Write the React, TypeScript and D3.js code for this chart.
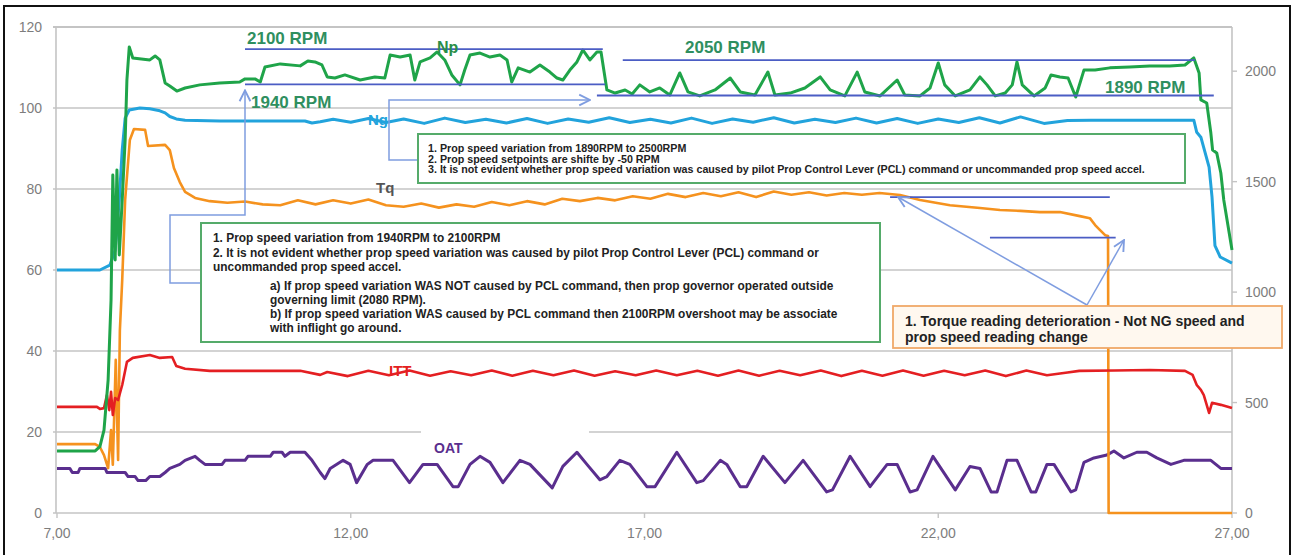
import React from 'react';
import * as d3 from 'd3';

// Flight-data trace: time on x, percent / °C on the left axis, prop RPM on the right axis.
const W = 1294;
const H = 555;

const TIME_TICKS = [7, 12, 17, 22, 27];
const TIME_LABELS = ['7,00', '12,00', '17,00', '22,00', '27,00'];
const LEFT_TICKS = [0, 20, 40, 60, 80, 100, 120];
const RIGHT_TICKS = [0, 500, 1000, 1500, 2000];

type Pt = [number, number];

// Np — prop speed, RPM (right axis)
const NP: Pt[] = [
  [7.0, 281], [7.65, 281], [7.73, 300], [7.8, 375], [7.87, 602], [7.92, 964], [7.95, 1530], [7.99, 1145], [8.02, 1553], [8.06, 1168],
  [8.11, 1417], [8.16, 1689], [8.19, 1960], [8.23, 2110], [8.29, 2060], [8.58, 2051], [8.67, 2069], [8.75, 2051], [8.84, 1947], [8.92, 1933],
  [9.04, 1910], [9.18, 1924], [9.43, 1938], [9.77, 1947], [10.11, 1951], [10.2, 1965], [10.37, 1965], [10.46, 1951], [10.54, 2019], [10.8, 2033],
  [11.14, 2024], [11.27, 2046], [11.39, 2042], [11.51, 2028], [11.6, 1974], [11.73, 1969], [11.9, 1983], [12.16, 1960], [12.41, 1974], [12.58, 1969],
  [12.67, 2073], [12.84, 2064], [13.01, 2073], [13.09, 1960], [13.18, 2042], [13.35, 2060], [13.47, 2087], [13.6, 2051], [13.72, 1983], [13.86, 1938],
  [13.94, 2005], [14.03, 2073], [14.2, 2082], [14.37, 2064], [14.54, 2073], [14.66, 2051], [14.74, 1951], [14.85, 2015], [15.05, 1996], [15.22, 2028],
  [15.39, 1996], [15.51, 1969], [15.61, 1960], [15.73, 2005], [15.85, 2042], [15.95, 2096], [16.07, 2051], [16.19, 2087], [16.26, 2087], [16.36, 1915],
  [16.5, 1901], [16.67, 1915], [16.79, 1897], [16.92, 1938], [17.09, 1906], [17.26, 1924], [17.43, 1892], [17.6, 1992], [17.74, 1906], [17.94, 1888],
  [18.2, 1915], [18.46, 1969], [18.63, 1906], [18.88, 1892], [19.1, 1996], [19.22, 1892], [19.48, 1901], [19.73, 1924], [19.99, 1974], [20.16, 1915],
  [20.41, 1888], [20.62, 1996], [20.75, 1906], [21.01, 1888], [21.3, 1960], [21.43, 1892], [21.69, 1888], [21.86, 1924], [22.0, 2037], [22.11, 1938],
  [22.29, 1888], [22.54, 1915], [22.71, 1974], [22.83, 1938], [22.97, 1888], [23.14, 1901], [23.26, 1938], [23.34, 2042], [23.43, 1938], [23.63, 1888],
  [23.82, 1924], [23.92, 1983], [24.07, 1974], [24.21, 1969], [24.34, 1883], [24.48, 2005], [24.67, 2005], [24.92, 2015], [25.26, 2019], [25.6, 2024],
  [25.94, 2024], [26.2, 2028], [26.35, 2060], [26.44, 1992], [26.47, 1870], [26.57, 1856], [26.64, 1720], [26.67, 1643], [26.74, 1630], [26.81, 1539],
  [26.86, 1417], [26.93, 1304], [27.0, 1191],
];

// Ng — gas generator speed, %
const NG: Pt[] = [
  [7.0, 60.0], [7.73, 60.0], [7.9, 61.2], [7.99, 64.9], [8.06, 77.3], [8.11, 89.6], [8.16, 97.5], [8.23, 99.5], [8.41, 100.0], [8.58, 99.8],
  [8.75, 99.3], [8.84, 98.8], [8.92, 97.9], [9.03, 97.3], [9.18, 97.0], [9.77, 96.8], [10.46, 96.8], [10.97, 96.8], [11.22, 96.8], [11.34, 96.3],
  [11.48, 96.6], [11.7, 97.2], [12.0, 96.5], [12.3, 97.4], [12.6, 96.4], [12.9, 97.3], [13.25, 96.2], [13.6, 97.5], [13.95, 96.4], [14.3, 97.2],
  [14.65, 96.3], [15.0, 97.4], [15.35, 96.2], [15.7, 97.3], [16.05, 96.5], [16.4, 97.6], [16.75, 96.4], [17.1, 97.2], [17.45, 96.3], [17.8, 97.5],
  [18.15, 96.2], [18.5, 97.3], [18.85, 96.5], [19.2, 97.6], [19.55, 96.3], [19.9, 97.2], [20.25, 96.4], [20.6, 97.5], [20.95, 96.3], [21.3, 97.4],
  [21.65, 96.2], [22.0, 97.3], [22.35, 96.4], [22.7, 97.6], [23.05, 96.3], [23.4, 97.8], [23.8, 96.2], [24.2, 96.9], [24.6, 97.0], [25.0, 97.0],
  [25.5, 97.0], [26.0, 97.0], [26.35, 97.0], [26.4, 94.0], [26.47, 92.8], [26.61, 85.4], [26.66, 78.0], [26.71, 66.0], [26.8, 63.2], [27.0, 61.7],
];

// Tq — torque, %
const TQ: Pt[] = [
  [7.0, 17.0], [7.65, 17.0], [7.73, 16.3], [7.8, 14.3], [7.87, 11.1], [7.92, 20.5], [7.95, 11.9], [8.0, 37.8], [8.04, 13.1], [8.07, 45.0],
  [8.11, 57.5], [8.16, 77.3], [8.24, 92.1], [8.31, 94.8], [8.5, 94.6], [8.55, 90.6], [8.84, 90.9], [8.92, 89.6], [8.99, 85.2], [9.09, 81.7],
  [9.18, 79.3], [9.35, 77.8], [9.6, 77.0], [9.9, 76.6], [10.2, 76.9], [10.5, 76.2], [10.8, 76.0], [11.1, 77.2], [11.4, 76.2], [11.7, 77.2],
  [12.0, 76.4], [12.3, 77.4], [12.6, 76.0], [12.9, 75.6], [13.2, 76.4], [13.5, 75.4], [13.8, 76.2], [14.1, 75.6], [14.4, 76.8], [14.7, 76.0],
  [15.0, 77.0], [15.3, 76.2], [15.6, 77.6], [15.9, 77.0], [16.2, 77.8], [16.5, 77.2], [16.8, 78.2], [17.1, 77.6], [17.4, 78.8], [17.7, 78.0],
  [18.0, 79.0], [18.3, 78.2], [18.6, 79.2], [18.9, 78.0], [19.2, 79.4], [19.5, 78.6], [19.8, 79.2], [20.1, 78.4], [20.4, 79.0], [20.7, 78.6],
  [21.0, 79.0], [21.35, 78.5], [21.69, 77.3], [22.2, 76.0], [22.71, 75.3], [23.05, 74.8], [23.4, 74.6], [23.73, 74.3], [24.07, 74.3], [24.41, 73.3],
  [24.58, 72.8], [24.67, 71.1], [24.75, 69.9], [24.84, 68.6], [24.89, 68.4], [24.9, 0], [27.0, 0],
];

// ITT — inter-turbine temperature
const ITT: Pt[] = [
  [7.0, 26.2], [7.68, 26.2], [7.73, 25.7], [7.8, 25.9], [7.85, 29.1], [7.89, 25.4], [7.92, 29.9], [7.95, 24.2], [7.99, 28.4], [8.04, 27.9],
  [8.11, 31.6], [8.19, 37.3], [8.29, 38.3], [8.58, 39.0], [8.75, 38.3], [8.96, 38.5], [9.03, 36.3], [9.18, 35.6], [9.6, 35.1], [10.46, 35.1],
  [11.14, 35.1], [11.48, 34.1], [11.6, 34.8], [11.95, 33.8], [12.3, 35.1], [12.65, 34.0], [13.0, 35.2], [13.35, 33.9], [13.7, 35.0], [14.05, 34.0],
  [14.4, 35.2], [14.75, 33.9], [15.1, 35.1], [15.45, 34.0], [15.8, 35.2], [16.15, 33.9], [16.5, 35.0], [16.85, 34.0], [17.2, 35.2], [17.55, 34.0],
  [17.9, 35.1], [18.25, 33.9], [18.6, 35.2], [18.95, 33.9], [19.3, 35.1], [19.65, 34.0], [20.0, 35.2], [20.35, 33.8], [20.7, 35.1], [21.05, 33.9],
  [21.4, 35.2], [21.75, 33.9], [22.1, 35.1], [22.45, 34.0], [22.8, 35.2], [23.15, 33.8], [23.5, 35.2], [23.85, 34.0], [24.2, 34.7], [24.4, 35.1],
  [25.0, 35.2], [25.6, 35.3], [26.2, 35.1], [26.33, 34.1], [26.4, 31.6], [26.47, 30.4], [26.52, 29.1], [26.61, 24.7], [26.66, 27.2], [26.81, 26.7],
  [27.0, 25.9],
];

// OAT — outside air temperature, °C
const OAT: Pt[] = [
  [7.0, 11], [7.22, 11], [7.26, 10], [7.36, 10], [7.39, 11], [7.82, 11], [7.85, 10], [8.16, 10], [8.21, 9], [8.33, 9],
  [8.38, 8], [8.51, 8], [8.58, 9], [8.75, 9], [8.84, 10], [8.92, 11], [9.09, 12], [9.18, 13], [9.35, 14], [9.43, 13],
  [9.52, 12], [9.81, 12], [9.86, 13], [10.2, 13], [10.25, 14], [10.63, 14], [10.68, 15], [10.83, 15], [10.88, 14], [10.97, 15],
  [11.22, 15], [11.34, 13], [11.48, 10], [11.56, 8.5], [11.65, 11], [11.87, 13], [11.99, 12], [12.1, 7.5], [12.28, 12], [12.38, 13],
  [12.72, 13], [13.0, 7.5], [13.23, 12], [13.47, 12], [13.74, 6.5], [13.83, 6.5], [14.03, 12], [14.2, 14], [14.37, 12.5], [14.59, 7.5],
  [14.88, 13], [15.05, 12], [15.43, 6.2], [15.61, 11.5], [15.85, 15], [16.02, 12], [16.24, 8.2], [16.36, 9], [16.58, 13], [16.75, 12],
  [17.04, 6.5], [17.18, 6.5], [17.55, 15], [17.89, 7.5], [18.0, 8], [18.29, 13], [18.4, 12], [18.63, 6.5], [18.74, 6.5], [19.02, 14],
  [19.39, 7.5], [19.7, 13], [20.1, 5.2], [20.2, 5.7], [20.5, 14], [20.84, 6.5], [21.13, 12], [21.3, 12], [21.52, 5.2], [21.64, 5.7],
  [21.91, 14], [22.29, 5.7], [22.54, 11.5], [22.71, 11], [22.9, 5.2], [23.0, 5.2], [23.17, 13], [23.34, 13], [23.58, 5.2], [23.66, 5.2],
  [23.85, 12], [23.97, 12], [24.26, 5.2], [24.34, 5.7], [24.48, 12.5], [24.65, 13.6], [24.87, 14.3], [24.99, 15.3], [25.16, 13.6], [25.38, 15],
  [25.55, 15], [25.72, 13.6], [25.96, 12], [26.18, 13], [26.64, 13], [26.81, 11], [27.0, 11],
];

// Prop-speed reference levels (RPM) with the time span they cover
const RPM_LEVELS = [
  { rpm: 2100, t0: 10.2, t1: 16.29, label: '2100 RPM' },
  { rpm: 1940, t0: 10.2, t1: 16.33, label: '1940 RPM' },
  { rpm: 2050, t0: 16.63, t1: 26.37, label: '2050 RPM' },
  { rpm: 1890, t0: 16.19, t1: 26.69, label: '1890 RPM' },
];

// Torque reference levels (%)
const TQ_LEVELS = [
  { v: 78, t0: 21.18, t1: 24.92 },
  { v: 68, t0: 22.88, t1: 25.02 },
];

const NOTE_A = [
  '1. Prop speed variation from 1940RPM to 2100RPM',
  '2. It is not evident whether prop speed variation was caused by pilot Prop Control Lever (PCL) command or',
  'uncommanded prop speed accel.',
  'a)  If prop speed variation WAS NOT caused by PCL command, then prop governor operated outside',
  'governing limit (2080 RPM).',
  'b)  If prop speed variation WAS caused by PCL command then 2100RPM overshoot may be associate',
  'with inflight go around.',
];

const NOTE_B = [
  '1. Prop speed variation from 1890RPM to 2500RPM',
  '2. Prop speed setpoints are shifte by -50 RPM',
  '3. It is not evident whether prop speed variation was caused by pilot Prop Control Lever (PCL) command or uncommanded prop speed accel.',
];

const NOTE_C = [
  '1. Torque reading deterioration - Not NG speed and',
  'prop speed reading change',
];

const C = {
  np: '#1fa449',
  ng: '#22a3dc',
  tq: '#f5921e',
  itt: '#e41f22',
  oat: '#5a2e8e',
  grid: '#c4c4c4',
  tick: '#7d7d7d',
  ref: '#4b5dc4',
  link: '#7f9de0',
  rpmText: '#2f8f5f',
  noteGreen: '#55ab6a',
};

export default function App() {
  const x = d3.scaleLinear().domain([7, 27]).range([57, 1232]);
  const yL = d3.scaleLinear().domain([0, 120]).range([513, 27]);
  const yR = d3.scaleLinear().domain([0, 2200]).range([513, 27]);

  const lineL = d3.line<Pt>().x((d) => x(d[0])).y((d) => yL(d[1]));
  const lineR = d3.line<Pt>().x((d) => x(d[0])).y((d) => yR(d[1]));

  const font = "'Liberation Sans', Arial, sans-serif";
  const x0 = x.range()[0];
  const x1 = x.range()[1];

  return (
    <svg
      width={W}
      height={H}
      viewBox={`0 0 ${W} ${H}`}
      style={{ position: 'absolute', left: 0, top: 0, background: '#fff' }}
      fontFamily={font}
    >
      <defs>
        <marker id="arrowOpen" viewBox="0 0 10 10" refX="9" refY="5" markerWidth="9" markerHeight="9" orient="auto">
          <path d="M1,1 L9,5 L1,9" fill="none" stroke={C.link} strokeWidth={1.4} />
        </marker>
      </defs>

      {/* outer frame */}
      <rect x={4} y={6} width={1286} height={556} fill="#fff" stroke="#111" strokeWidth={2} />

      {/* horizontal grid */}
      {LEFT_TICKS.map((v) => (
        <line key={`g${v}`} x1={x0 - 4} x2={x1} y1={yL(v)} y2={yL(v)} stroke={C.grid} strokeWidth={v === 120 ? 2.2 : 1.6} />
      ))}
      {/* plot frame sides */}
      <line x1={x0 - 1} x2={x0 - 1} y1={yL(120)} y2={yL(0)} stroke={C.grid} strokeWidth={1.6} />
      <line x1={x1} x2={x1} y1={yL(120)} y2={yL(0)} stroke={C.grid} strokeWidth={1.6} />
      {RIGHT_TICKS.map((v) => (
        <line key={`rt${v}`} x1={x1} x2={x1 + 5} y1={yR(v)} y2={yR(v)} stroke={C.grid} strokeWidth={1.4} />
      ))}
      {TIME_TICKS.map((t) => (
        <line key={`xt${t}`} x1={x(t)} x2={x(t)} y1={yL(0)} y2={yL(0) + 5} stroke={C.grid} strokeWidth={1.4} />
      ))}

      {/* axis labels */}
      {LEFT_TICKS.map((v) => (
        <text key={`lt${v}`} x={42} y={yL(v) + 5} textAnchor="end" fontSize={14} fill={C.tick}>
          {v}
        </text>
      ))}
      {RIGHT_TICKS.map((v) => (
        <text key={`rl${v}`} x={1245} y={yR(v) + 5} textAnchor="start" fontSize={14} fill={C.tick}>
          {v}
        </text>
      ))}
      {TIME_TICKS.map((t, i) => (
        <text key={`xl${t}`} x={x(t)} y={538} textAnchor="middle" fontSize={14} fill={C.tick}>
          {TIME_LABELS[i]}
        </text>
      ))}

      {/* blank callout box sitting over the 20 grid line */}
      <rect x={421} y={427} width={168} height={11} fill="#fff" />

      {/* data traces */}
      <path d={lineL(OAT) ?? ''} fill="none" stroke={C.oat} strokeWidth={3} strokeLinejoin="round" />
      <path d={lineL(TQ) ?? ''} fill="none" stroke={C.tq} strokeWidth={2.6} strokeLinejoin="round" />
      <path d={lineL(ITT) ?? ''} fill="none" stroke={C.itt} strokeWidth={2.6} strokeLinejoin="round" />
      <path d={lineL(NG) ?? ''} fill="none" stroke={C.ng} strokeWidth={3} strokeLinejoin="round" />
      <path d={lineR(NP) ?? ''} fill="none" stroke={C.np} strokeWidth={3} strokeLinejoin="round" />

      {/* RPM reference levels */}
      {RPM_LEVELS.map((r) => (
        <line key={`rl-${r.rpm}`} x1={x(r.t0)} x2={x(r.t1)} y1={yR(r.rpm)} y2={yR(r.rpm)} stroke={C.ref} strokeWidth={1.8} />
      ))}
      <g fontSize={17} fontWeight={700} fill={C.rpmText}>
        <text x={x(RPM_LEVELS[0].t0) + 2} y={yR(2100) - 5}>{RPM_LEVELS[0].label}</text>
        <text x={x(RPM_LEVELS[1].t0) + 6} y={yR(1940) + 24}>{RPM_LEVELS[1].label}</text>
        <text x={685} y={yR(2050) - 7}>{RPM_LEVELS[2].label}</text>
        <text x={1105} y={yR(1890) - 2}>{RPM_LEVELS[3].label}</text>
      </g>

      {/* torque reference levels */}
      {TQ_LEVELS.map((r) => (
        <line key={`tq-${r.v}`} x1={x(r.t0)} x2={x(r.t1)} y1={yL(r.v)} y2={yL(r.v)} stroke={C.ref} strokeWidth={1.6} />
      ))}

      {/* series names */}
      <text x={437} y={53} fontSize={16} fontWeight={700} fill="#2a8f48">Np</text>
      <text x={368} y={125} fontSize={15} fontWeight={700} fill={C.ng}>Ng</text>
      <text x={376} y={193} fontSize={15} fontWeight={700} fill="#555">Tq</text>
      <text x={389} y={376} fontSize={15} fontWeight={700} fill={C.itt}>ITT</text>
      <text x={434} y={453} fontSize={14} fontWeight={700} fill={C.oat}>OAT</text>

      {/* connectors from notes */}
      <polyline
        points={`201,283 170,283 170,215 ${x(10.2)},215 ${x(10.2)},${yR(1940) + 6}`}
        fill="none"
        stroke={C.link}
        strokeWidth={1.5}
        markerEnd="url(#arrowOpen)"
      />
      <polyline
        points="418,160 389,160 389,100 590,100"
        fill="none"
        stroke={C.link}
        strokeWidth={1.5}
        markerEnd="url(#arrowOpen)"
      />
      <line x1={1087} y1={305} x2={898} y2={197} stroke={C.link} strokeWidth={1.5} markerEnd="url(#arrowOpen)" />
      <line x1={1087} y1={305} x2={1124} y2={240} stroke={C.link} strokeWidth={1.5} markerEnd="url(#arrowOpen)" />

      {/* note: prop speed 1940-2100 */}
      <rect x={201} y={223} width={679} height={119} fill="#fff" stroke={C.noteGreen} strokeWidth={2} />
      <g fontSize={11.9} fontWeight={700} fill="#222">
        {NOTE_A.map((s, i) => {
          const ys = [242, 257, 271, 290, 304, 318, 332];
          const xs = i >= 3 ? 270 : 213;
          return (
            <text key={`na${i}`} x={xs} y={ys[i]}>
              {s}
            </text>
          );
        })}
      </g>

      {/* note: prop speed 1890-2500 */}
      <rect x={418} y={134} width={767} height={49} fill="#fff" stroke={C.noteGreen} strokeWidth={2} />
      <g fontSize={10.7} fontWeight={700} fill="#222">
        {NOTE_B.map((s, i) => (
          <text key={`nb${i}`} x={428} y={152 + i * 10.5}>
            {s}
          </text>
        ))}
      </g>

      {/* note: torque */}
      <rect x={893} y={306} width={389} height={42} fill="#fff8ef" stroke="#f0a868" strokeWidth={1.8} />
      <g fontSize={14} fontWeight={700} fill="#222">
        {NOTE_C.map((s, i) => (
          <text key={`nc${i}`} x={905} y={326 + i * 16}>
            {s}
          </text>
        ))}
      </g>
    </svg>
  );
}
